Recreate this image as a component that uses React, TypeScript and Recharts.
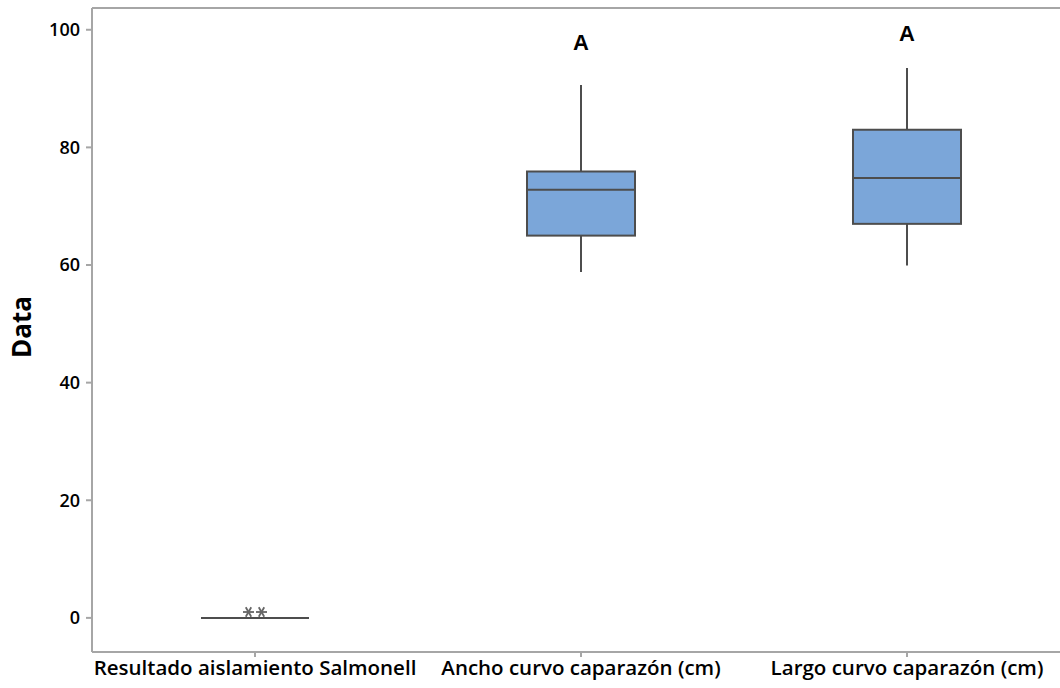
import React from 'react';
import {
  ComposedChart,
  Bar,
  Scatter,
  XAxis,
  YAxis,
  ReferenceLine,
} from 'recharts';

const categories = [
  'Resultado aislamiento Salmonell',
  'Ancho curvo caparazón (cm)',
  'Largo curvo caparazón (cm)',
];
const whiskerLow = [0, 58.8, 59.9];
const q1 = [0, 65.0, 67.0];
const median = [0, 72.8, 74.8];
const q3 = [0, 75.9, 83.0];
const whiskerHigh = [0, 90.6, 93.5];
const outliers = [[1, 1], [], []];
const groupLetters = ['', 'A', 'A'];
const letterLevels = [null, 97.8, 99.3];
const yTicks = [0, 20, 40, 60, 80, 100];
const yDomain = [-5.8, 103.7];

const BOX_FILL = '#7ba6d9';
const EDGE = '#4d4d4d';
const AXIS = '#a6a6a6';
const FONT = '"Open Sans", "Noto Sans", sans-serif';

const boxData = categories.map((name, i) => ({
  name,
  low: whiskerLow[i],
  q1: q1[i],
  median: median[i],
  q3: q3[i],
  high: whiskerHigh[i],
}));

const outlierData = categories.flatMap((name, i) =>
  outliers[i].map((v, j) => ({ name, value: v, idx: j, n: outliers[i].length }))
);

const letterData = categories
  .map((name, i) => ({ name, value: letterLevels[i], letter: groupLetters[i] }))
  .filter((d) => d.value !== null);

function BoxShape(props: any) {
  const { x, y, width, height, payload } = props;
  const top = Math.min(y, y + height);
  const bottom = Math.max(y, y + height);
  const span = payload.high - payload.low;
  const px = span > 0 ? (bottom - top) / span : 0;
  const yOf = (v: number) => (span > 0 ? top + (payload.high - v) * px : top);
  const cx = x + width / 2;
  const yq1 = yOf(payload.q1);
  const yq3 = yOf(payload.q3);
  const ymed = yOf(payload.median);
  return (
    <g>
      <line x1={cx} x2={cx} y1={top} y2={yq3} stroke={EDGE} strokeWidth={2} />
      <line x1={cx} x2={cx} y1={yq1} y2={bottom} stroke={EDGE} strokeWidth={2} />
      <rect
        x={x}
        y={yq3}
        width={width}
        height={Math.max(yq1 - yq3, 0)}
        fill={BOX_FILL}
        stroke={EDGE}
        strokeWidth={2}
      />
      <line x1={x} x2={x + width} y1={ymed} y2={ymed} stroke={EDGE} strokeWidth={2} />
    </g>
  );
}

function Asterisk(props: any) {
  const { cx, cy, payload } = props;
  const off = (payload.idx - (payload.n - 1) / 2) * 13;
  const r = 5.5;
  const lines = [0, 60, 120].map((a) => {
    const rad = (a * Math.PI) / 180;
    return (
      <line
        key={a}
        x1={cx + off - r * Math.cos(rad)}
        y1={cy - r * Math.sin(rad)}
        x2={cx + off + r * Math.cos(rad)}
        y2={cy + r * Math.sin(rad)}
        stroke="#666"
        strokeWidth={1.8}
      />
    );
  });
  return <g>{lines}</g>;
}

function LetterShape(props: any) {
  const { cx, cy, payload } = props;
  return (
    <text
      x={cx}
      y={cy}
      textAnchor="middle"
      dominantBaseline="central"
      fontFamily="Arial, 'Liberation Sans', sans-serif"
      fontWeight="bold"
      fontSize={22}
      fill="#000"
    >
      {payload.letter}
    </text>
  );
}

function YLabel(props: any) {
  const { viewBox } = props;
  const x = 21;
  const y = viewBox.y + viewBox.height / 2 - 3;
  return (
    <text
      x={x}
      y={y}
      transform={`rotate(-90, ${x}, ${y})`}
      textAnchor="middle"
      dominantBaseline="central"
      fontFamily={FONT}
      fontWeight={700}
      fontSize={26}
      fill="#000"
    >
      Data
    </text>
  );
}

export default function App() {
  return (
    <div
      style={{
        position: 'absolute',
        left: 0,
        top: 0,
        width: 1060,
        height: 688,
        overflow: 'hidden',
        background: '#fff',
      }}
    >
      <ComposedChart
        width={1080}
        height={688}
        data={boxData}
        margin={{ top: 8, right: 10, bottom: 0, left: 0 }}
      >
        <XAxis
          dataKey="name"
          type="category"
          allowDuplicatedCategory={false}
          height={36}
          interval={0}
          stroke={AXIS}
          strokeWidth={2}
          tickSize={5}
          tickMargin={3}
          tick={{ fill: '#000', fontSize: 20.5, fontWeight: 600, fontFamily: FONT }}
        />
        <YAxis
          type="number"
          domain={yDomain}
          ticks={yTicks}
          width={92}
          stroke={AXIS}
          strokeWidth={2}
          tickSize={6}
          tickMargin={6}
          tick={{ fill: '#000', fontSize: 18, fontWeight: 600, fontFamily: FONT }}
          label={<YLabel />}
        />
        <ReferenceLine y={yDomain[1]} stroke={AXIS} strokeWidth={2} />
        <Bar
          dataKey={(d: any) => [d.low, d.high]}
          barSize={108}
          shape={<BoxShape />}
          isAnimationActive={false}
        />
        <Scatter
          data={outlierData}
          dataKey="value"
          shape={<Asterisk />}
          isAnimationActive={false}
        />
        <Scatter
          data={letterData}
          dataKey="value"
          shape={<LetterShape />}
          isAnimationActive={false}
        />
      </ComposedChart>
    </div>
  );
}
